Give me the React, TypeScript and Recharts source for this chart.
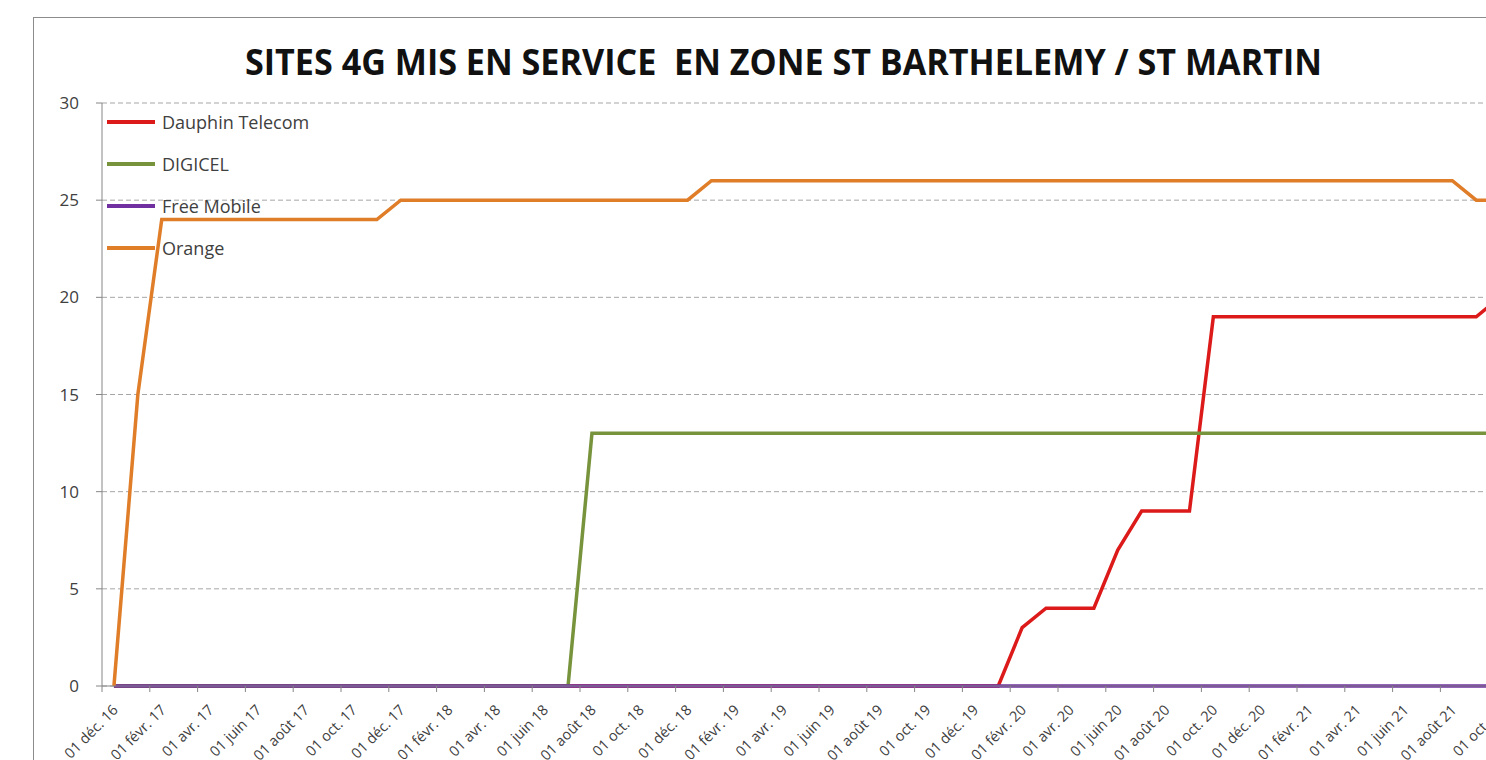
import React from "react";
import { LineChart, Line, XAxis, YAxis, CartesianGrid, Legend } from "recharts";

const months = [
  "déc. 16",
  "janv. 17","févr. 17","mars 17","avr. 17","mai 17","juin 17","juil. 17","août 17","sept. 17","oct. 17","nov. 17","déc. 17",
  "janv. 18","févr. 18","mars 18","avr. 18","mai 18","juin 18","juil. 18","août 18","sept. 18","oct. 18","nov. 18","déc. 18",
  "janv. 19","févr. 19","mars 19","avr. 19","mai 19","juin 19","juil. 19","août 19","sept. 19","oct. 19","nov. 19","déc. 19",
  "janv. 20","févr. 20","mars 20","avr. 20","mai 20","juin 20","juil. 20","août 20","sept. 20","oct. 20","nov. 20","déc. 20",
  "janv. 21","févr. 21","mars 21","avr. 21","mai 21","juin 21","juil. 21","août 21","sept. 21","oct. 21",
];

const dauphin = [
  0,
  0,0,0,0,0,0,0,0,0,0,0,0,
  0,0,0,0,0,0,0,0,0,0,0,0,
  0,0,0,0,0,0,0,0,0,0,0,0,
  0,3,4,4,4,7,9,9,9,19,19,19,
  19,19,19,19,19,19,19,19,19,20,
];

const digicel = [
  0,
  0,0,0,0,0,0,0,0,0,0,0,0,
  0,0,0,0,0,0,0,13,13,13,13,13,
  13,13,13,13,13,13,13,13,13,13,13,13,
  13,13,13,13,13,13,13,13,13,13,13,13,
  13,13,13,13,13,13,13,13,13,13,
];

const freeMobile = [
  0,
  0,0,0,0,0,0,0,0,0,0,0,0,
  0,0,0,0,0,0,0,0,0,0,0,0,
  0,0,0,0,0,0,0,0,0,0,0,0,
  0,0,0,0,0,0,0,0,0,0,0,0,
  0,0,0,0,0,0,0,0,0,0,
];

const orange = [
  0,
  15,24,24,24,24,24,24,24,24,24,24,25,
  25,25,25,25,25,25,25,25,25,25,25,25,
  26,26,26,26,26,26,26,26,26,26,26,26,
  26,26,26,26,26,26,26,26,26,26,26,26,
  26,26,26,26,26,26,26,26,25,25,
];

const tickLabels = [
  "01 déc. 16","01 févr. 17","01 avr. 17","01 juin 17","01 août 17","01 oct. 17",
  "01 déc. 17","01 févr. 18","01 avr. 18","01 juin 18","01 août 18","01 oct. 18",
  "01 déc. 18","01 févr. 19","01 avr. 19","01 juin 19","01 août 19","01 oct. 19",
  "01 déc. 19","01 févr. 20","01 avr. 20","01 juin 20","01 août 20","01 oct. 20",
  "01 déc. 20","01 févr. 21","01 avr. 21","01 juin 21","01 août 21","01 oct. 21",
  "01 déc. 21",
];
const tickPositions = tickLabels.map((_, i) => i * 2);
const yTicks = [0, 5, 10, 15, 20, 25, 30];

const series = [
  { key: "dauphin", name: "Dauphin Telecom", color: "#DD1A1A", values: dauphin },
  { key: "digicel", name: "DIGICEL", color: "#77933C", values: digicel },
  { key: "free", name: "Free Mobile", color: "#7030A0", values: freeMobile },
  { key: "orange", name: "Orange", color: "#E07D28", values: orange },
];

const data = months.map((m, i) => {
  const row: Record<string, number | string> = { month: m, x: i + 0.5 };
  series.forEach((s) => {
    row[s.key] = s.values[i];
  });
  return row;
});

const FONT = "'Open Sans', 'Noto Sans', sans-serif";

const XTick = (props: any) => {
  const { x, y, payload } = props;
  const idx = Math.round(payload.value / 2);
  return (
    <g transform={`translate(${x},${y})`}>
      <text
        x={0}
        y={24}
        textAnchor="end"
        transform="rotate(-45)"
        fontSize={14.5}
        fontFamily={FONT}
        fill="#404040"
      >
        {tickLabels[idx]}
      </text>
    </g>
  );
};

const renderLegend = () => (
  <div style={{ fontFamily: FONT }}>
    {series.map((s) => (
      <div key={s.key} style={{ display: "flex", alignItems: "center", height: 42 }}>
        <div style={{ width: 48, height: 3.5, background: s.color, marginRight: 7 }} />
        <span style={{ fontSize: 18, color: "#404040", lineHeight: "20px" }}>{s.name}</span>
      </div>
    ))}
  </div>
);

export default function App() {
  return (
    <div
      style={{
        position: "absolute",
        left: 0,
        top: 0,
        width: 1486,
        height: 760,
        overflow: "hidden",
        background: "#ffffff",
      }}
    >
      <div
        style={{
          position: "absolute",
          left: 33,
          top: 17,
          border: "1px solid #8c8c8c",
          background: "#fff",
        }}
      >
        <LineChart
          width={1512}
          height={780}
          data={data}
          margin={{ top: 85, right: 10, bottom: 12, left: 0 }}
        >
          <CartesianGrid
            vertical={false}
            stroke="#a6a6a6"
            strokeDasharray="5 3"
          />
          <XAxis
            dataKey="x"
            type="number"
            domain={[0, 60]}
            ticks={tickPositions}
            interval={0}
            allowDataOverflow
            height={100}
            axisLine={{ stroke: "#868686" }}
            tickLine={{ stroke: "#868686" }}
            tickSize={6}
            tick={<XTick />}
          />
          <YAxis
            type="number"
            domain={[0, 30]}
            ticks={yTicks}
            width={68}
            interval={0}
            axisLine={{ stroke: "#868686" }}
            tickLine={{ stroke: "#868686" }}
            tickSize={6}
            tickMargin={17}
            tick={{ fontSize: 17, fontFamily: FONT, fill: "#404040" }}
          />
          <Legend
            layout="vertical"
            align="center"
            verticalAlign="middle"
            content={renderLegend}
            wrapperStyle={{ left: 73, top: 83, width: 220, height: 170 }}
          />
          {series.map((s) => (
            <Line
              key={s.key}
              type="linear"
              dataKey={s.key}
              name={s.name}
              stroke={s.color}
              strokeWidth={3.5}
              dot={false}
              activeDot={false}
              isAnimationActive={false}
            />
          ))}
        </LineChart>
      </div>
      <svg
        width={1486}
        height={100}
        style={{ position: "absolute", left: 0, top: 0, pointerEvents: "none" }}
      >
        <text
          x={783.5}
          y={75}
          textAnchor="middle"
          fontFamily={FONT}
          fontWeight={700}
          fontSize={36}
          fill="#111"
          textLength={1077}
          lengthAdjust="spacingAndGlyphs"
          style={{ whiteSpace: "pre" }}
        >
          SITES 4G MIS EN SERVICE  EN ZONE ST BARTHELEMY / ST MARTIN
        </text>
      </svg>
    </div>
  );
}
